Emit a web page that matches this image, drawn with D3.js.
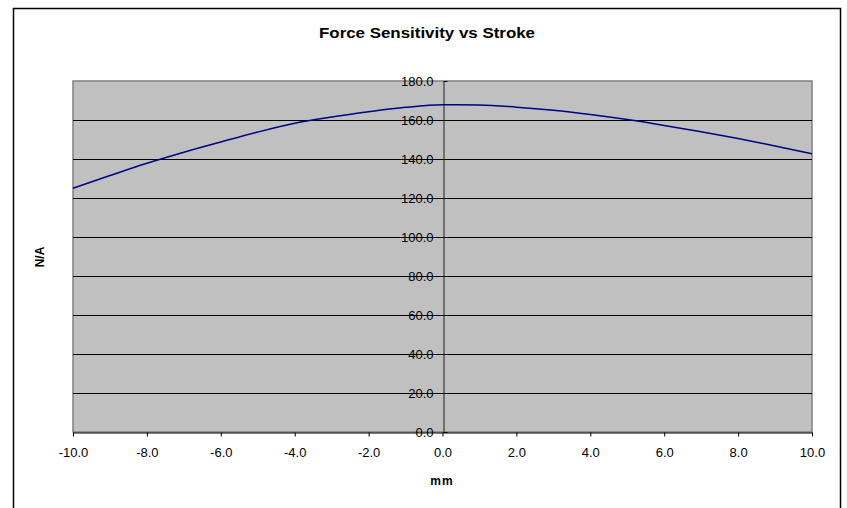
<!DOCTYPE html>
<html>
<head>
  <title>Force Sensitivity vs Stroke</title>
  <script src="https://d3js.org/d3.v7.min.js"></script>
  <style>
    body { margin: 0; background: #fff; }
    text { font-family: "Liberation Sans", Arial, sans-serif; }
  </style>
</head>
<body>
  <svg id="chart"></svg>

  <script>
    // stroke positions (mm) and force sensitivity (N/A)
    var stroke = [-10, -9, -8, -7, -6, -5, -4, -3, -2, -1, 0, 1, 2, 3, 4, 5, 6, 7, 8, 9, 10];
    var sensitivity = [125.0, 131.5, 137.8, 143.5, 148.7, 153.8, 158.3, 161.5, 164.2, 166.5, 167.8,
                       167.7, 166.6, 165.0, 162.8, 160.2, 157.2, 154.0, 150.5, 146.7, 142.7];
    var xTicks = [-10, -8, -6, -4, -2, 0, 2, 4, 6, 8, 10];
    var yTicks = [0, 20, 40, 60, 80, 100, 120, 140, 160, 180];

    var width = 847, height = 508;
    var plotLeft = 73, plotRight = 812, plotTop = 81, plotBottom = 432;

    var svg = d3.select("#chart")
      .attr("width", width)
      .attr("height", height);

    // outer chart border
    svg.append("rect")
      .attr("x", 13.5).attr("y", 8.5)
      .attr("width", 827).attr("height", 520)
      .attr("fill", "#fff")
      .attr("stroke", "#000")
      .attr("stroke-width", 1.5);

    var x = d3.scaleLinear().domain([-10, 10]).range([plotLeft, plotRight]);
    var y = d3.scaleLinear().domain([0, 180]).range([plotBottom, plotTop]);

    // plot area
    svg.append("rect")
      .attr("x", plotLeft).attr("y", plotTop)
      .attr("width", plotRight - plotLeft).attr("height", plotBottom - plotTop)
      .attr("fill", "#c0c0c0")
      .attr("stroke", "#808080")
      .attr("stroke-width", 1.5);

    // gridlines
    svg.append("g")
      .selectAll("line")
      .data(yTicks.filter(function(d) { return d > 0 && d < 180; }))
      .enter()
      .append("line")
      .attr("x1", plotLeft).attr("x2", plotRight)
      .attr("y1", function(d) { return Math.round(y(d)) + 0.5; })
      .attr("y2", function(d) { return Math.round(y(d)) + 0.5; })
      .attr("stroke", "#000")
      .attr("stroke-width", 1);

    // x axis at bottom
    var xAxis = svg.append("g")
      .attr("transform", "translate(0," + (plotBottom + 0.5) + ")")
      .call(d3.axisBottom(x).tickValues(xTicks).tickSize(4).tickSizeOuter(0)
        .tickFormat(function(d) { return d.toFixed(1); }));
    xAxis.select(".domain").attr("stroke", "#000");
    xAxis.selectAll("text")
      .attr("font-size", 13)
      .attr("fill", "#000")
      .attr("y", 15);

    // y axis crossing at x = 0
    var yAxis = svg.append("g")
      .attr("transform", "translate(" + (Math.round(x(0)) + 0.5) + ",0)")
      .call(d3.axisRight(y).tickValues(yTicks).tickSize(4).tickSizeOuter(0)
        .tickFormat(function(d) { return d.toFixed(1); }));
    yAxis.select(".domain").attr("stroke", "#555").attr("stroke-width", 1.5);
    yAxis.selectAll("text")
      .attr("font-size", 13)
      .attr("fill", "#000")
      .attr("text-anchor", "end")
      .attr("x", -10);

    // the curve
    var line = d3.line()
      .x(function(d, i) { return x(stroke[i]); })
      .y(function(d) { return y(d); })
      .curve(d3.curveMonotoneX);

    svg.append("path")
      .datum(sensitivity)
      .attr("d", line)
      .attr("fill", "none")
      .attr("stroke", "#000080")
      .attr("stroke-width", 1.5);

    // title and axis labels
    svg.append("text")
      .attr("x", 427).attr("y", 38)
      .attr("text-anchor", "middle")
      .attr("font-size", 15)
      .attr("font-weight", "bold")
      .attr("textLength", 216)
      .attr("lengthAdjust", "spacingAndGlyphs")
      .text("Force Sensitivity vs Stroke");

    svg.append("text")
      .attr("x", 442).attr("y", 485)
      .attr("text-anchor", "middle")
      .attr("font-size", 12)
      .attr("font-weight", "bold")
      .attr("letter-spacing", 1)
      .text("mm");

    svg.append("text")
      .attr("transform", "translate(44,257) rotate(-90)")
      .attr("text-anchor", "middle")
      .attr("font-size", 12)
      .attr("font-weight", "bold")
      .text("N/A");
  </script>
</body>
</html>
